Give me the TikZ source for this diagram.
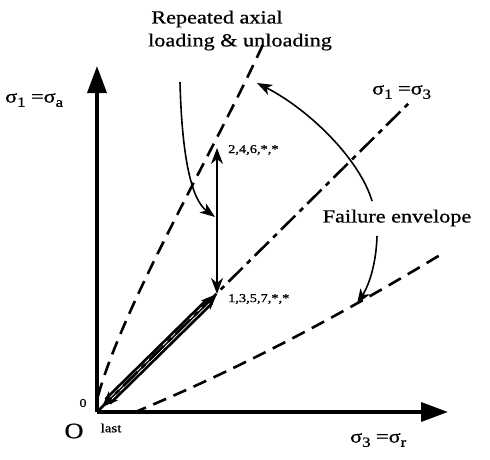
\documentclass[tikz,border=0pt]{standalone}
\usepackage{fontspec}
\setmainfont{Liberation Serif}[FakeStretch=1.2, FakeBold=0.7]
\usetikzlibrary{arrows.meta, calc}
\newcommand{\lowidx}[1]{\raisebox{-0.5ex}{\fontsize{14}{14}\selectfont #1}}

\begin{document}
\begin{tikzpicture}[x=1pt, y=-1pt,
    axis/.style={line width=3.5pt, -{Triangle[length=27pt, width=19pt]}},
    envelope/.style={line width=2.6pt, dash pattern=on 14pt off 8pt},
    isoline/.style={line width=2.6pt, dash pattern=on 20pt off 6pt on 5pt off 6pt},
    pointer/.style={line width=1.6pt, -{Stealth[length=15pt, width=11pt, inset=4pt]}},
    every node/.style={inner sep=0pt, font=\fontsize{18.5}{21}\selectfont}]

    \useasboundingbox (0,0) rectangle (490,459);

    % Key points
    \coordinate (O) at (97,412);
    \coordinate (ytip) at (97,66);
    \coordinate (xtip) at (448,412);
    \coordinate (lo) at (102,407);
    \coordinate (p1) at (217,294);
    \coordinate (p2) at (217,148);
    \coordinate (isoend) at (412,100);
    \coordinate (pmid) at (215,217);

    % Failure envelope curves
    \draw[envelope] (98,396) .. controls (125,300) and (215,150) .. (266,38);
    \draw[envelope] (133,413) .. controls (200,385) and (300,340) .. (445,252);

    % Loading path along the hydrostatic line
    \draw[line width=2.8pt, double, double distance=3.4pt, shorten <=8pt, shorten >=10pt] (lo) -- (p1);
    \draw[isoline] (O) -- (isoend);
    \draw[line width=1.5pt, {Stealth[length=16pt, width=13pt, inset=5pt]}-{Stealth[length=16pt, width=13pt, inset=5pt]}]
      (lo) -- (p1);

    % Repeated axial loading
    \draw[line width=1.5pt, {Stealth[length=16pt, width=12pt, inset=5pt]}-{Stealth[length=16pt, width=12pt, inset=5pt]}]
      (p1) -- (p2);

    % Axes
    \draw[axis] (O) -- (ytip);
    \draw[axis] (O) -- (xtip);

    % Axis labels
    \node[anchor=west] (ylab) at (5,100) {σ\lowidx{1} =σ\lowidx{a}};
    \node[anchor=west] (xlab) at (350,440) {σ\lowidx{3} =σ\lowidx{r}};
    \node[anchor=west] (isolab) at (372,92) {σ\lowidx{1} =σ\lowidx{3}};
    \node[font=\fontsize{22}{24}\selectfont] (orig) at (74,431) {O};
    \node[font=\fontsize{12}{14}\selectfont] (zero) at (83,403) {0};
    \node[font=\fontsize{12.5}{14}\selectfont] (last) at (111,428) {last};

    % Cycle labels
    \node[anchor=west, font=\fontsize{12}{14}\selectfont] (even) at (228,150) {2,4,6,*,*};
    \node[anchor=west, font=\fontsize{12}{14}\selectfont] (odd) at (228,299) {1,3,5,7,*,*};

    % Annotations
    \node (rep1) at (217,19) {Repeated axial};
    \node (rep2) at (240,42) {loading \& unloading};
    \node (fail) at (397,218) {Failure envelope};

    \coordinate (repstart) at (180,82);
    \coordinate (failup) at (372,201);
    \coordinate (faildown) at (377,236);
    \coordinate (envtop) at (257,83);
    \coordinate (envlow) at (357,304);

    \draw[pointer] (repstart) .. controls (182,160) and (192,200) .. (pmid);
    \draw[pointer] (failup) .. controls (360,160) and (310,110) .. (envtop);
    \draw[pointer] (faildown) .. controls (376,270) and (366,290) .. (envlow);

\end{tikzpicture}
\end{document}
